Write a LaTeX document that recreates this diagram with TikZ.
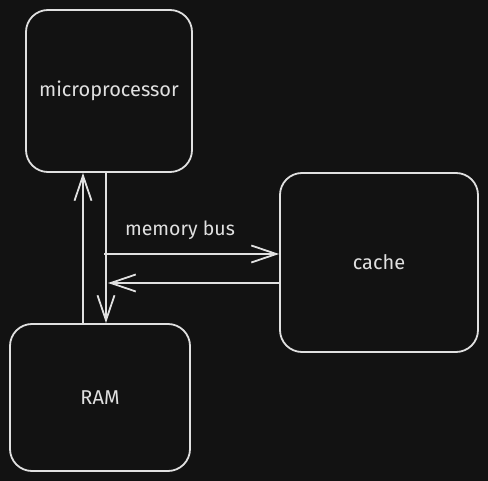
\documentclass[tikz,border=0pt]{standalone}
\usepackage{fontspec}
\setmainfont{Fira Sans}
\usetikzlibrary{arrows.meta}
\definecolor{bgdark}{RGB}{18,18,18}
\definecolor{inkgray}{RGB}{224,224,224}
\tikzset{
  box/.style={draw=inkgray, line width=1.8pt, rounded corners=22pt, fill=bgdark,
    text=inkgray, font=\fontsize{20}{24}\selectfont, inner sep=0pt},
  arr/.style={draw=inkgray, line width=1.8pt, -{Straight Barb[length=25pt,width=17pt]}},
  lbl/.style={text=inkgray, font=\fontsize{19.5}{23}\selectfont, inner sep=0pt},
}
\begin{document}
\begin{tikzpicture}[x=1pt,y=-1pt]
    % background
    \fill[bgdark] (0,0) rectangle (488,481);
    \useasboundingbox (0,0) rectangle (488,481);

    % boxes
    \node[box, minimum width=166pt, minimum height=162pt] (mp) at (109,91) {microprocessor};
    \node[box, minimum width=198pt, minimum height=179pt] (cache) at (379,262.5) {cache};
    \node[box, minimum width=180pt, minimum height=147pt] (ram) at (100,397.5) {RAM};

    % bus label
    \node[lbl] (buslbl) at (180,230) {memory bus};

    % ends of the connectors
    \coordinate (upx) at (83,0);
    \coordinate (downx) at (106,0);
    \coordinate (busout) at (104,254);
    \coordinate (busin) at (108,283);

    % connectors
    \draw[arr] (ram.north -| upx) -- (mp.south -| upx);
    \draw[arr] (mp.south -| downx) -- (ram.north -| downx);
    \draw[arr] (busout) -- (busout -| cache.west);
    \draw[arr] (busin -| cache.west) -- (busin);
\end{tikzpicture}
\end{document}
